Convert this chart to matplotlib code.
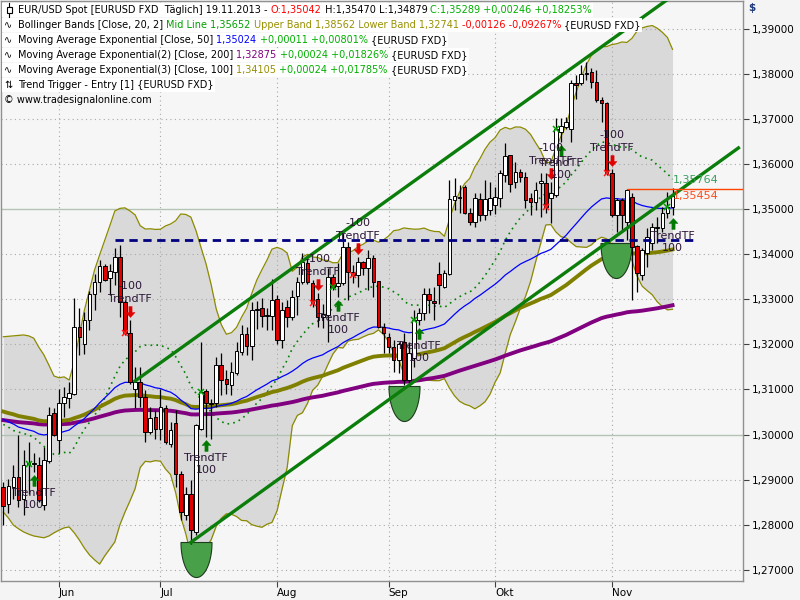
import numpy as np
import pandas as pd
import matplotlib
matplotlib.use("Agg")
import matplotlib.pyplot as plt
from matplotlib.path import Path
from matplotlib.patches import Rectangle
from matplotlib.lines import Line2D
from matplotlib.ticker import FuncFormatter

# EUR/USD daily candles, 17.05.2013 .. 19.11.2013
opens = [
    1.2884, 1.2847, 1.2884, 1.2906, 1.2856, 1.2936, 1.2934, 1.2933, 1.2843, 1.2941,
    1.3047, 1.2989, 1.3070, 1.3082, 1.3091, 1.3239, 1.3202, 1.3255, 1.3313, 1.3339,
    1.3373, 1.3348, 1.3361, 1.3393, 1.3294, 1.3225, 1.3102, 1.3117, 1.3084, 1.3006,
    1.3038, 1.3013, 1.3058, 1.2980, 1.3026, 1.2913, 1.2821, 1.2869, 1.2784, 1.3013,
    1.3096, 1.3070, 1.3069, 1.3154, 1.3123, 1.3109, 1.3137, 1.3183, 1.3223, 1.3197,
    1.3276, 1.3281, 1.3263, 1.3263, 1.3300, 1.3209, 1.3282, 1.3261, 1.3307, 1.3339,
    1.3381, 1.3336, 1.3301, 1.3261, 1.3265, 1.3350, 1.3330, 1.3336, 1.3416, 1.3361,
    1.3354, 1.3383, 1.3370, 1.3392, 1.3341, 1.3239, 1.3216, 1.3194, 1.3165, 1.3205,
    1.3121, 1.3170, 1.3254, 1.3270, 1.3312, 1.3296, 1.3356, 1.3327, 1.3356, 1.3520,
    1.3527, 1.3549, 1.3492, 1.3472, 1.3523, 1.3487, 1.3498, 1.3510, 1.3524, 1.3576,
    1.3620, 1.3561, 1.3583, 1.3572, 1.3524, 1.3517, 1.3559, 1.3559, 1.3524, 1.3531,
    1.3672, 1.3683, 1.3679, 1.3781, 1.3779, 1.3800, 1.3805, 1.3783, 1.3742, 1.3735,
    1.3580, 1.3487, 1.3520, 1.3472, 1.3528, 1.3418, 1.3354, 1.3402, 1.3424, 1.3458,
    1.3458, 1.3491, 1.3504]
highs = [
    1.2895, 1.2902, 1.2932, 1.2999, 1.2965, 1.2984, 1.2958, 1.2950, 1.2973, 1.3061,
    1.3058, 1.3102, 1.3106, 1.3117, 1.3302, 1.3280, 1.3272, 1.3318, 1.3357, 1.3388,
    1.3378, 1.3379, 1.3415, 1.3420, 1.3298, 1.3254, 1.3150, 1.3150, 1.3098, 1.3061,
    1.3054, 1.3102, 1.3065, 1.3028, 1.3054, 1.2920, 1.2884, 1.2899, 1.3024, 1.3206,
    1.3102, 1.3080, 1.3172, 1.3180, 1.3143, 1.3161, 1.3206, 1.3243, 1.3239, 1.3294,
    1.3297, 1.3302, 1.3280, 1.3346, 1.3309, 1.3294, 1.3298, 1.3320, 1.3350, 1.3402,
    1.3398, 1.3342, 1.3314, 1.3290, 1.3370, 1.3357, 1.3381, 1.3447, 1.3427, 1.3376,
    1.3394, 1.3385, 1.3409, 1.3398, 1.3341, 1.3248, 1.3225, 1.3210, 1.3205, 1.3225,
    1.3205, 1.3276, 1.3281, 1.3325, 1.3325, 1.3327, 1.3383, 1.3365, 1.3565, 1.3569,
    1.3554, 1.3554, 1.3503, 1.3536, 1.3536, 1.3565, 1.3561, 1.3550, 1.3587, 1.3646,
    1.3620, 1.3605, 1.3590, 1.3583, 1.3535, 1.3561, 1.3580, 1.3580, 1.3561, 1.3702,
    1.3702, 1.3705, 1.3787, 1.3797, 1.3820, 1.3827, 1.3813, 1.3809, 1.3750, 1.3739,
    1.3590, 1.3524, 1.3524, 1.3545, 1.3535, 1.3421, 1.3413, 1.3458, 1.3469, 1.3483,
    1.3506, 1.3539, 1.3547]
lows = [
    1.2799, 1.2825, 1.2858, 1.2840, 1.2821, 1.2869, 1.2917, 1.2851, 1.2832, 1.2936,
    1.2996, 1.2958, 1.3039, 1.3058, 1.3087, 1.3176, 1.3178, 1.3231, 1.3276, 1.3317,
    1.3341, 1.3309, 1.3331, 1.3261, 1.3220, 1.3113, 1.3058, 1.3061, 1.2984, 1.3001,
    1.2991, 1.2987, 1.2980, 1.2973, 1.2884, 1.2810, 1.2810, 1.2758, 1.2777, 1.3010,
    1.2995, 1.2991, 1.3061, 1.3087, 1.3091, 1.3087, 1.3132, 1.3176, 1.3176, 1.3165,
    1.3235, 1.3239, 1.3231, 1.3231, 1.3202, 1.3191, 1.3239, 1.3254, 1.3265, 1.3335,
    1.3335, 1.3283, 1.3239, 1.3236, 1.3205, 1.3321, 1.3305, 1.3332, 1.3299, 1.3336,
    1.3327, 1.3355, 1.3321, 1.3305, 1.3236, 1.3181, 1.3181, 1.3139, 1.3137, 1.3110,
    1.3114, 1.3150, 1.3243, 1.3254, 1.3270, 1.3254, 1.3290, 1.3325, 1.3354, 1.3498,
    1.3492, 1.3490, 1.3465, 1.3461, 1.3474, 1.3476, 1.3487, 1.3490, 1.3506, 1.3561,
    1.3539, 1.3546, 1.3560, 1.3502, 1.3487, 1.3498, 1.3483, 1.3491, 1.3469, 1.3528,
    1.3650, 1.3679, 1.3650, 1.3745, 1.3776, 1.3787, 1.3768, 1.3739, 1.3694, 1.3576,
    1.3483, 1.3450, 1.3450, 1.3432, 1.3298, 1.3317, 1.3343, 1.3372, 1.3409, 1.3424,
    1.3450, 1.3480, 1.3488]
closes = [
    1.2841, 1.2885, 1.2906, 1.2854, 1.2933, 1.2934, 1.2936, 1.2854, 1.2943, 1.3044,
    1.2999, 1.3070, 1.3084, 1.3092, 1.3239, 1.3217, 1.3255, 1.3313, 1.3339, 1.3373,
    1.3344, 1.3362, 1.3393, 1.3294, 1.3225, 1.3117, 1.3117, 1.3084, 1.3006, 1.3037,
    1.3013, 1.3061, 1.2984, 1.3010, 1.2913, 1.2828, 1.2869, 1.2788, 1.3022, 1.3095,
    1.3070, 1.3067, 1.3154, 1.3122, 1.3112, 1.3139, 1.3185, 1.3224, 1.3197, 1.3276,
    1.3279, 1.3263, 1.3265, 1.3298, 1.3209, 1.3276, 1.3261, 1.3305, 1.3339, 1.3383,
    1.3339, 1.3292, 1.3261, 1.3268, 1.3350, 1.3327, 1.3336, 1.3416, 1.3361, 1.3354,
    1.3383, 1.3370, 1.3392, 1.3339, 1.3239, 1.3225, 1.3194, 1.3165, 1.3201, 1.3121,
    1.3180, 1.3254, 1.3270, 1.3312, 1.3299, 1.3292, 1.3332, 1.3358, 1.3523, 1.3529,
    1.3525, 1.3492, 1.3472, 1.3525, 1.3487, 1.3523, 1.3524, 1.3528, 1.3580, 1.3617,
    1.3557, 1.3583, 1.3572, 1.3520, 1.3517, 1.3543, 1.3563, 1.3506, 1.3535, 1.3678,
    1.3685, 1.3694, 1.3779, 1.3776, 1.3800, 1.3803, 1.3783, 1.3742, 1.3735, 1.3580,
    1.3487, 1.3520, 1.3487, 1.3543, 1.3417, 1.3358, 1.3409, 1.3439, 1.3461, 1.3461,
    1.3491, 1.3506, 1.3529]

month_idx = [11, 31, 54, 76, 97, 120]
month_labels = ["Jun", "Jul", "Aug", "Sep", "Okt", "Nov"]

# band values for the first 19 bars (their history is left of the chart)
bb_upper_head = [1.3217, 1.3218, 1.3219, 1.3220, 1.3221, 1.3219, 1.3214, 1.3194, 1.3177, 1.3154,
                 1.3130, 1.3126, 1.3128, 1.3121, 1.3161, 1.3221, 1.3276, 1.3321, 1.3365]
bb_lower_head = [1.2828, 1.2815, 1.2799, 1.2791, 1.2784, 1.2779, 1.2775, 1.2773, 1.2771, 1.2775,
                 1.2782, 1.2788, 1.2793, 1.2795, 1.2782, 1.2766, 1.2748, 1.2733, 1.2722]
ema50_start = 1.3034
ema100_start = 1.3051
ema200_start = 1.3032

buy_bars = [6, 40, 66, 82, 110, 132]
sell_bars = [25, 62, 70, 108, 120]
cup_bars = [38, 79, 120.8]
cup_levels = [1.2762, 1.3108, 1.3426]
channel_top_x = [26, 145]
channel_top_y = [1.3119, 1.4078]
channel_bot_x = [37, 145]
channel_bot_y = [1.2761, 1.3636]
resist_x = [22, 137]
resist_level = 1.3432
hi_line_bar = 123
hi_line_level = 1.35454

W, H = 800, 600
n = len(closes)
x = np.arange(n)
o = np.array(opens); h = np.array(highs); l = np.array(lows); c = np.array(closes)

# indicators
cs = pd.Series(c)
upper = (cs.rolling(20).mean() + 2 * cs.rolling(20).std(ddof=0)).to_numpy()
lower = (cs.rolling(20).mean() - 2 * cs.rolling(20).std(ddof=0)).to_numpy()
upper[:19] = bb_upper_head
lower[:19] = bb_lower_head
mid = cs.rolling(20).mean().to_numpy()
mid[:19] = (np.array(bb_upper_head) + np.array(bb_lower_head)) / 2


def ema(start, period):
    a = 2.0 / (period + 1)
    out = [start]
    for v in c[1:]:
        out.append(out[-1] + a * (v - out[-1]))
    return np.array(out)


ema50 = ema(ema50_start, 50)
ema100 = ema(ema100_start, 100)
ema200 = ema(ema200_start, 200)

fig = plt.figure(figsize=(8, 6), dpi=100, facecolor="#f4f4f4")
ax = fig.add_axes([0.00125, 19 / H, 742 / W, 580 / H])
ax.set_facecolor("#f6f6f6")
ax.set_xlim(-0.45, 145.9)
ax.set_ylim(1.26751, 1.39620)
for s in ax.spines.values():
    s.set_color("#909090")
    s.set_linewidth(1)

# grid
for lv in np.arange(1.27, 1.3951, 0.01):
    if abs(lv - 1.30) < 1e-6 or abs(lv - 1.35) < 1e-6:
        ax.axhline(lv, color="#b4c4b4", lw=1, zorder=1)
    else:
        ax.axhline(lv, color="#a8a8a8", lw=0.8, ls=(0, (1, 3)), zorder=1)
for m in month_idx:
    ax.axvline(m, color="#a8a8a8", lw=0.8, ls=(0, (1, 3)), zorder=1)

# bollinger
ax.fill_between(x, lower, upper, color="#d9d9d9", lw=0, zorder=0.5)
ax.plot(x, upper, color="#8c8a00", lw=0.9, zorder=2)
ax.plot(x, lower, color="#8c8a00", lw=0.9, zorder=2)
ax.plot(x, mid, color="#008000", lw=1.2, ls=(0, (1, 2.5)), zorder=2)

# emas
ax.plot(x, ema200, color="#800080", lw=2.8, zorder=3)
ax.plot(x, ema100, color="#808000", lw=2.8, zorder=3)
ax.plot(x, ema50, color="#0000ff", lw=0.9, zorder=3)

# cups
th = np.linspace(0, np.pi, 40)
cup = np.column_stack([15.5 * np.cos(th), -35 * np.sin(th)])
cup = np.vstack([cup, cup[:1]])
ax.plot(cup_bars, cup_levels, ls="none", marker=Path(cup, closed=True), ms=0.72 * 70,
        mfc="#48a048", mec="#1e3c1e", mew=0.8, zorder=4)

# candles
up = c >= o
ax.vlines(x, l, h, color="black", lw=0.9, zorder=5)
ax.bar(x, np.maximum(np.abs(c - o), 0.00004), bottom=np.minimum(o, c), width=0.72,
       color=np.where(up, "white", "#e00000"), edgecolor="black", linewidth=0.7, zorder=6)

# trend channel / levels
ax.plot(channel_top_x, channel_top_y, color="#0a7d0a", lw=2.4, zorder=7)
ax.plot(channel_bot_x, channel_bot_y, color="#0a7d0a", lw=2.4, zorder=7)
ax.hlines(resist_level, resist_x[0], resist_x[1], colors="#000080", lw=2,
          linestyles=(0, (3, 2)), zorder=7)
ax.hlines(hi_line_level, hi_line_bar, 145.9, colors="#ff4500", lw=1, zorder=7)
ax.text(132, 1.3564, "1,35764", color="#3a9e60", fontsize=8, va="center", ha="left", zorder=9)
ax.text(132, 1.3529, "1,35454", color="#ff4a1a", fontsize=8, va="center", ha="left", zorder=9)

# trend trigger signals
up_arrow = [(0, -3), (4.5, -8), (1.6, -8), (1.6, -14), (-1.6, -14), (-1.6, -8), (-4.5, -8), (0, -3)]
dn_arrow = [(px, -py) for px, py in up_arrow]
lab_col = "#2a1535"
pt = 72 / 100
bb = np.array(buy_bars)
sb = np.array(sell_bars)
ax.plot(bb, l[bb], ls="none", marker=Path(up_arrow, closed=True), ms=pt * 28,
        mfc="#007a00", mec="#007a00", mew=0.3, zorder=8)
ax.plot(sb, h[sb], ls="none", marker=Path(dn_arrow, closed=True), ms=pt * 28,
        mfc="#e00000", mec="#e00000", mew=0.3, zorder=8)
ax.plot(bb - 1, c[bb - 1], ls="none", marker="x", ms=4, mew=1.1, color="#00a000", zorder=8)
ax.plot(sb - 1, c[sb - 1], ls="none", marker="x", ms=4, mew=1.1, color="#ff2020", zorder=8)
for b in buy_bars:
    ax.annotate("TrendTF", (b, lows[b]), xytext=(0, -21 * pt), textcoords="offset points",
                ha="center", va="center", fontsize=8, color=lab_col, zorder=8)
    ax.annotate("100", (b, lows[b]), xytext=(0, -33 * pt), textcoords="offset points",
                ha="center", va="center", fontsize=8, color=lab_col, zorder=8)
for b in sell_bars:
    ax.annotate("TrendTF", (b, highs[b]), xytext=(0, 21 * pt), textcoords="offset points",
                ha="center", va="center", fontsize=8, color=lab_col, zorder=8)
    ax.annotate("-100", (b, highs[b]), xytext=(0, 34 * pt), textcoords="offset points",
                ha="center", va="center", fontsize=8, color=lab_col, zorder=8)

# axes
ax.yaxis.tick_right()
ax.set_yticks(np.arange(1.27, 1.3951, 0.01))
ax.yaxis.set_major_formatter(FuncFormatter(lambda v, p: ("%.5f" % v).replace(".", ",")))
ax.tick_params(axis="y", direction="out", length=4, width=0.8, color="#404040",
               labelsize=7.5, pad=2)
ax.set_xticks(month_idx)
ax.set_xticklabels(month_labels, ha="left")
ax.tick_params(axis="x", direction="out", length=4, width=0.8, color="#404040",
               labelsize=7.5, pad=1)
fig.text(748 / W, 1 - 8 / H, "$", color="#1f3a7a", fontsize=7.5, weight="bold", va="center")

# header legend
renderer = fig.canvas.get_renderer()
hdr = 7.0
green = "#00b000"
olive = "#999000"
lines = [
    [("EUR/USD Spot [EURUSD FXD  Täglich] 19.11.2013 - ", "black"), ("O:1,35042", "#ff0000"),
     (" H:1,35470 L:1,34879 ", "black"), ("C:1,35289 +0,00246 +0,18253%", green)],
    [("Bollinger Bands [Close, 20, 2] ", "black"), ("Mid Line 1,35652 ", "#00a000"),
     ("Upper Band 1,38562 Lower Band 1,32741 ", olive), ("-0,00126 -0,09267% ", "#ff0000"),
     ("{EURUSD FXD}", "black")],
    [("Moving Average Exponential [Close, 50] ", "black"), ("1,35024 ", "#0000ff"),
     ("+0,00011 +0,00801% ", green), ("{EURUSD FXD}", "black")],
    [("Moving Average Exponential(2) [Close, 200] ", "black"), ("1,32875 ", "#800080"),
     ("+0,00024 +0,01826% ", green), ("{EURUSD FXD}", "black")],
    [("Moving Average Exponential(3) [Close, 100] ", "black"), ("1,34105 ", olive),
     ("+0,00024 +0,01785% ", green), ("{EURUSD FXD}", "black")],
    [("Trend Trigger - Entry [1] {EURUSD FXD}", "black")],
]
icons = [None, "∿", "∿", "∿", "∿", "⇅"]
for k, pieces in enumerate(lines):
    yc = 10 + 15 * k
    xp = 18
    for s, col in pieces:
        t = fig.text(xp / W, 1 - yc / H, s, color=col, fontsize=hdr, va="center", ha="left",
                     zorder=11)
        xp = t.get_window_extent(renderer).x1
    fig.patches.append(Rectangle((2 / W, 1 - (yc + 7) / H), (xp - 1) / W, 14 / H,
                                 transform=fig.transFigure, facecolor="white",
                                 edgecolor="none", zorder=10))
    if icons[k]:
        fig.text(4 / W, 1 - yc / H, icons[k], color="black", fontsize=hdr, va="center",
                 ha="left", zorder=11)
# candle icon for the price line
fig.lines.append(Line2D([9 / W, 9 / W], [1 - 3 / H, 1 - 17 / H], transform=fig.transFigure,
                        color="black", lw=0.8, zorder=11))
fig.patches.append(Rectangle((6.5 / W, 1 - 13 / H), 5 / W, 6 / H, transform=fig.transFigure,
                             facecolor="white", edgecolor="black", lw=0.8, zorder=12))
fig.text(4 / W, 1 - 100 / H, "© www.tradesignalonline.com", color="black", fontsize=hdr,
         va="center", ha="left", zorder=11)

fig.savefig("out.png", dpi=100, facecolor=fig.get_facecolor())
